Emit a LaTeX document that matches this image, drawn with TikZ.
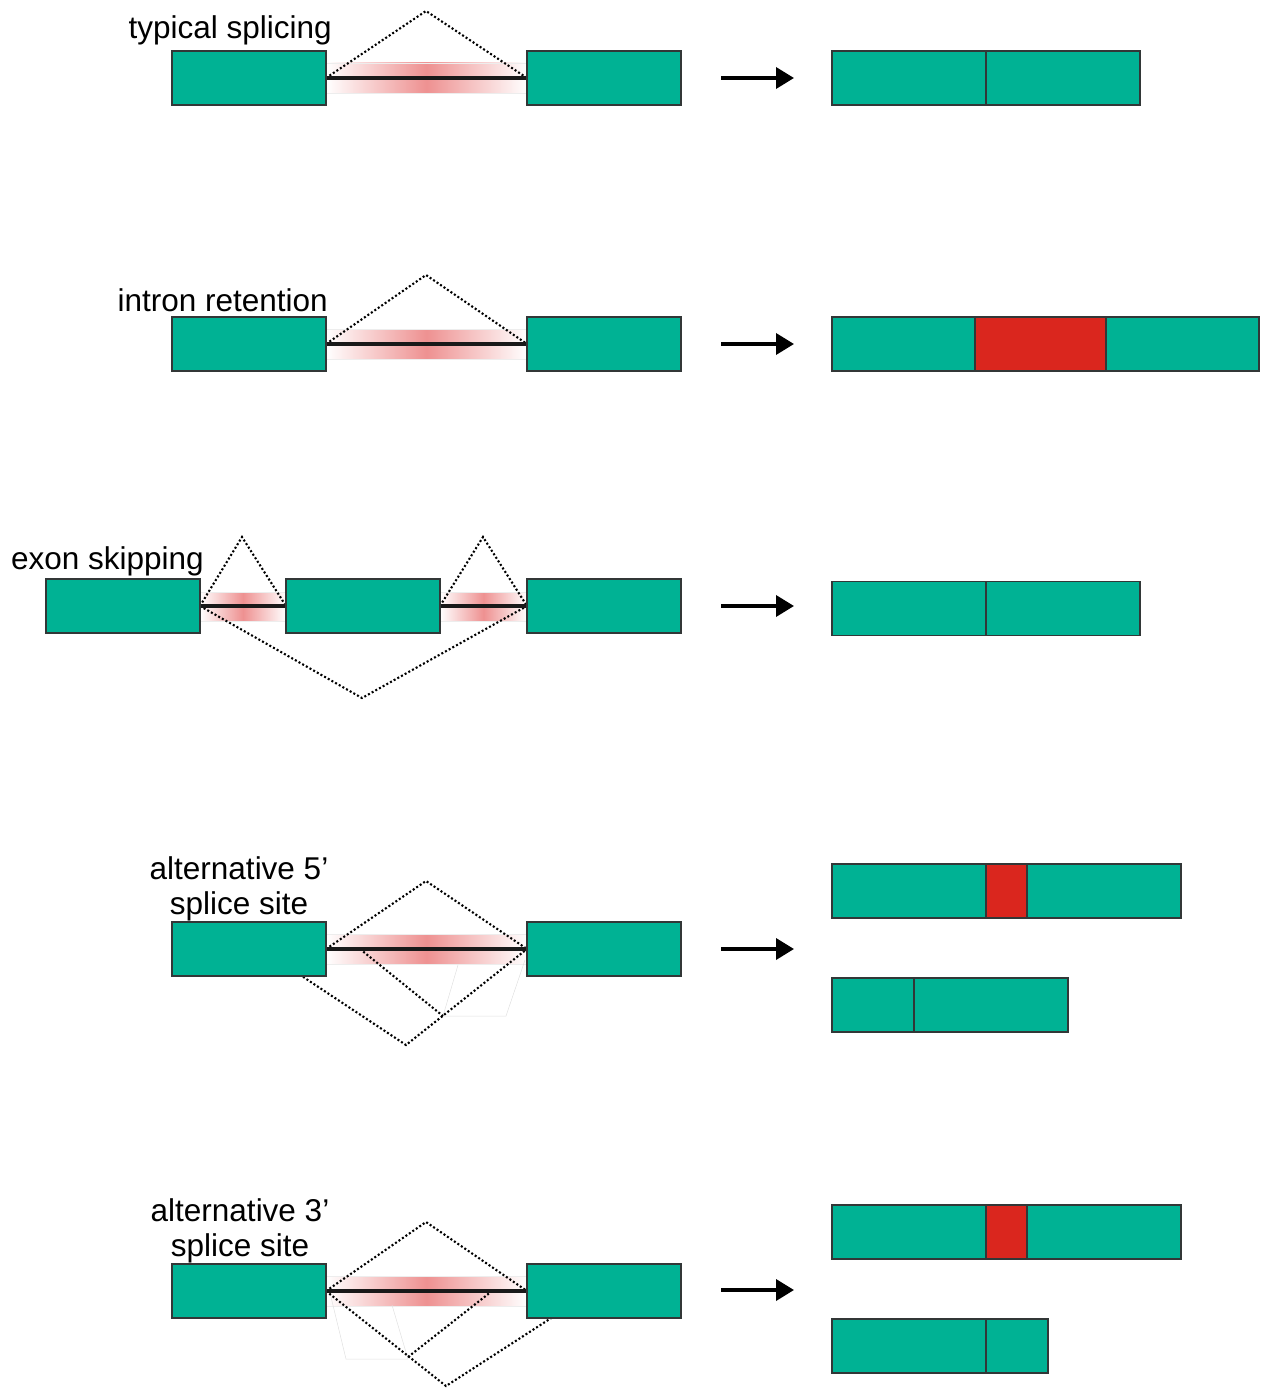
\documentclass[tikz,border=0pt]{standalone}
\usepackage{fontspec}
\setmainfont{Liberation Sans}
\usetikzlibrary{arrows.meta}
\pgfdeclarelayer{background}
\pgfsetlayers{background,main}
\definecolor{exteal}{RGB}{0,178,148}
\definecolor{exred}{RGB}{218,38,30}
\definecolor{pinkc}{RGB}{238,145,145}
\definecolor{edgec}{RGB}{50,55,55}
\tikzset{
  exon/.style={draw=edgec, line width=1.2pt, fill=exteal, minimum height=54pt, inner sep=0pt, outer sep=0pt, minimum width=#1},
  exon/.default=154pt,
  redseg/.style={draw=edgec, line width=1.2pt, fill=exred, minimum height=54pt, inner sep=0pt, outer sep=0pt, minimum width=#1},
  intron/.style={line width=4pt, draw=black!90},
  splice/.style={line width=2.1pt, dash pattern=on 2pt off 2.2pt, draw=black},
  band/.style={left color=white, right color=white, middle color=pinkc, draw=black!7, line width=0.6pt},
  ghost/.style={draw=black!12, line width=0.5pt},
  arr/.style={line width=3.6pt, -{Triangle[length=18pt,width=21pt]}},
  lbl/.style={font=\fontsize{31.5pt}{36pt}\selectfont, inner sep=0pt},
}
\begin{document}
\begin{tikzpicture}[x=1pt,y=-1pt]
\useasboundingbox (0,0) rectangle (1262,1388);

% ---------- Row 1: typical splicing ----------
\node[lbl, anchor=base east] (l1) at (332,39) {typical splicing};
\node[exon] (e11) at (249,78) {};
\node[exon] (e12) at (604,78) {};
\coordinate (p1) at (426,11);
\node[exon] (o11) at (909,78) {};
\node[exon] (o12) at (1063,78) {};
\coordinate (a1s) at (721,78);
\coordinate (a1e) at (794,78);
\draw[arr] (a1s) -- (a1e);
\begin{pgfonlayer}{background}
  \shade[band] (326,63) rectangle (527,93);
  \draw[splice] (e11.east) -- (p1) -- (e12.west);
  \draw[intron] (e11.east) -- (e12.west);
\end{pgfonlayer}

% ---------- Row 2: intron retention ----------
\node[lbl, anchor=base east] (l2) at (328,311) {intron retention};
\node[exon] (e21) at (249,344) {};
\node[exon] (e22) at (604,344) {};
\coordinate (p2) at (426,275);
\node[exon=143pt] (o21) at (903.5,344) {};
\node[redseg=131pt] (o22) at (1040.5,344) {};
\node[exon=153pt] (o23) at (1182.5,344) {};
\coordinate (a2s) at (721,344);
\coordinate (a2e) at (794,344);
\draw[arr] (a2s) -- (a2e);
\begin{pgfonlayer}{background}
  \shade[band] (326,329) rectangle (527,359);
  \draw[splice] (e21.east) -- (p2) -- (e22.west);
  \draw[intron] (e21.east) -- (e22.west);
\end{pgfonlayer}

% ---------- Row 3: exon skipping ----------
\node[lbl, anchor=base east] (l3) at (204,569) {exon skipping};
\node[exon] (e31) at (123,606) {};
\node[exon] (e32) at (363,606) {};
\node[exon] (e33) at (604,606) {};
\coordinate (p31) at (242,537);
\coordinate (p32) at (483,537);
\coordinate (p33) at (362,698);
\node[exon] (o31) at (909,608.5) {};
\node[exon] (o32) at (1063,608.5) {};
\coordinate (a3s) at (721,606);
\coordinate (a3e) at (794,606);
\draw[arr] (a3s) -- (a3e);
\begin{pgfonlayer}{background}
  \shade[band] (200,592) rectangle (286,621);
  \shade[band] (440,592) rectangle (527,621);
  \draw[splice] (e31.east) -- (p31) -- (e32.west);
  \draw[splice] (e32.east) -- (p32) -- (e33.west);
  \draw[splice] (e31.east) -- (p33) -- (e33.west);
  \draw[intron] (e31.east) -- (e32.west);
  \draw[intron] (e32.east) -- (e33.west);
\end{pgfonlayer}

% ---------- Row 4: alternative 5' splice site ----------
\node[lbl, anchor=base] (l4a) at (239,879) {alternative 5’};
\node[lbl, anchor=base] (l4b) at (239,914) {splice site};
\node[exon] (e41) at (249,949) {};
\node[exon] (e42) at (604,949) {};
\coordinate (p41) at (426,881);
\coordinate (q41) at (261,949);
\coordinate (p42) at (406,1045);
\coordinate (q42) at (360,949);
\coordinate (p43) at (443,1016);
\node[exon] (o41) at (909,891) {};
\node[redseg=41pt] (o42) at (1006.5,891) {};
\node[exon] (o43) at (1104,891) {};
\node[exon=82pt] (o44) at (873,1005) {};
\node[exon] (o45) at (991,1005) {};
\coordinate (a4s) at (721,949);
\coordinate (a4e) at (794,949);
\draw[arr] (a4s) -- (a4e);
\begin{pgfonlayer}{background}
  \shade[band] (326,934) rectangle (527,964);
  \draw[ghost] (458,965) -- (443,1016) -- (506,1016) -- (525,960);
  \draw[splice] (e41.east) -- (p41) -- (e42.west);
  \draw[splice] (q41) -- (p42) -- (e42.west);
  \draw[splice] (q42) -- (p43);
  \draw[intron] (e41.east) -- (e42.west);
\end{pgfonlayer}

% ---------- Row 5: alternative 3' splice site ----------
\node[lbl, anchor=base] (l5a) at (240,1221) {alternative 3’};
\node[lbl, anchor=base] (l5b) at (240,1256) {splice site};
\node[exon] (e51) at (249,1291) {};
\node[exon] (e52) at (604,1291) {};
\coordinate (p51) at (426,1222);
\coordinate (p52) at (446,1386);
\coordinate (q52) at (593,1291);
\coordinate (q53) at (408,1357);
\coordinate (p53) at (492,1291);
\node[exon] (o51) at (909,1232) {};
\node[redseg=41pt] (o52) at (1006.5,1232) {};
\node[exon] (o53) at (1104,1232) {};
\node[exon] (o54) at (909,1346) {};
\node[exon=62pt] (o55) at (1017,1346) {};
\coordinate (a5s) at (721,1290);
\coordinate (a5e) at (794,1290);
\draw[arr] (a5s) -- (a5e);
\begin{pgfonlayer}{background}
  \shade[band] (326,1276) rectangle (527,1306);
  \draw[ghost] (331,1297) -- (346,1359) -- (408,1359) -- (392,1305);
  \draw[splice] (e51.east) -- (p51) -- (e52.west);
  \draw[splice] (e51.east) -- (p52) -- (q52);
  \draw[splice] (q53) -- (p53);
  \draw[intron] (e51.east) -- (e52.west);
\end{pgfonlayer}
\end{tikzpicture}
\end{document}
